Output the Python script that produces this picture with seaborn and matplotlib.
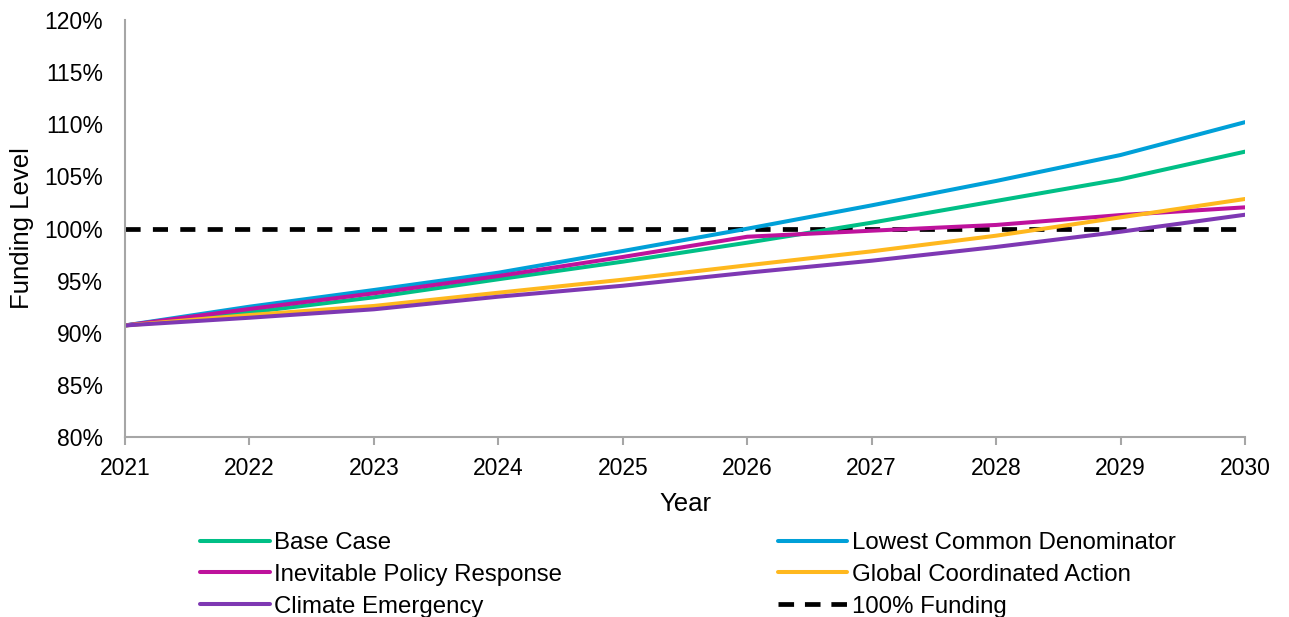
import matplotlib
matplotlib.use("Agg")
import matplotlib.pyplot as plt
import seaborn as sns
import pandas as pd
from matplotlib.ticker import FuncFormatter, MultipleLocator
from matplotlib.lines import Line2D

years = [2021, 2022, 2023, 2024, 2025, 2026, 2027, 2028, 2029, 2030]
base_case = [90.7, 91.96, 93.40, 95.13, 96.82, 98.64, 100.56, 102.64, 104.72, 107.37]
lowest_common = [90.7, 92.50, 94.10, 95.76, 97.84, 99.98, 102.22, 104.56, 107.05, 110.2]
inevitable_policy = [90.7, 92.28, 93.78, 95.44, 97.27, 99.21, 99.79, 100.34, 101.29, 102.03]
global_coordinated = [90.7, 91.70, 92.57, 93.84, 95.09, 96.47, 97.81, 99.31, 101.07, 102.83]
climate_emergency = [90.7, 91.44, 92.25, 93.46, 94.51, 95.76, 96.91, 98.23, 99.69, 101.32]
funding_100 = [100] * len(years)

series_names = ["Base Case", "Lowest Common Denominator", "Inevitable Policy Response",
                "Global Coordinated Action", "Climate Emergency", "100% Funding"]
series_values = [base_case, lowest_common, inevitable_policy, global_coordinated,
                 climate_emergency, funding_100]
colors = ["#00BF86", "#00A0D8", "#BE129C", "#FFB81E", "#7E38B3", "#000000"]

sns.set_theme(style="white")
plt.rcParams['font.family'] = ['Liberation Sans', 'DejaVu Sans']
plt.rcParams['text.color'] = 'black'
plt.rcParams['axes.labelcolor'] = 'black'

fig = plt.figure(figsize=(12.89, 6.17), dpi=100)
ax = fig.add_axes([125/1289, 1 - 437/617, 1120/1289, 417/617])

handles = {}
for name, vals, col in zip(series_names, series_values, colors):
    df = pd.DataFrame({"Year": years, "Value": vals})
    if name == "100% Funding":
        sns.lineplot(data=df, x="Year", y="Value", ax=ax, color=col, linewidth=3.4,
                     dashes=False, zorder=1)
        ln = ax.lines[-1]
        ln.set_dashes((3.2, 2.6))
        ln.set_dash_capstyle("butt")
        handles[name] = Line2D([], [], color=col, linewidth=3.4, dashes=(3.3, 2.3))
    else:
        sns.lineplot(data=df, x="Year", y="Value", ax=ax, color=col, linewidth=2.9, zorder=2)
        handles[name] = Line2D([], [], color=col, linewidth=2.9)

ax.set_xlim(2021, 2030)
ax.set_ylim(80, 120)
ax.xaxis.set_major_locator(MultipleLocator(1))
ax.yaxis.set_major_locator(MultipleLocator(5))
ax.xaxis.set_major_formatter(FuncFormatter(lambda v, p: f"{int(round(v))}"))
ax.yaxis.set_major_formatter(FuncFormatter(lambda v, p: f"{v:.0f}%"))

for s in ["top", "right"]:
    ax.spines[s].set_visible(False)
for s in ["left", "bottom"]:
    ax.spines[s].set_color("#A6A6A6")
    ax.spines[s].set_linewidth(1.5)

ax.tick_params(axis="x", which="major", bottom=True, length=6, width=1.5, color="#A6A6A6",
               labelsize=16.5, labelcolor="black", pad=8.5)
ax.tick_params(axis="y", which="major", left=False, labelsize=16.5, labelcolor="black", pad=10)

ax.set_xlabel("Year", fontsize=18.5, color="black", labelpad=8.5)
ax.set_ylabel("Funding Level", fontsize=18.5, color="black", labelpad=7)

order = ["Base Case", "Inevitable Policy Response", "Climate Emergency",
         "Lowest Common Denominator", "Global Coordinated Action", "100% Funding"]
leg = fig.legend([handles[n] for n in order], order, ncol=2, frameon=False,
                 loc="upper left", bbox_to_anchor=(200/1289, 1 - 532/617),
                 fontsize=17.3, handlelength=2.9, handletextpad=0.2,
                 columnspacing=8.95, labelspacing=0.41, borderaxespad=0, borderpad=0)
for t in leg.get_texts():
    t.set_color("black")

fig.savefig("out.png", dpi=100)
